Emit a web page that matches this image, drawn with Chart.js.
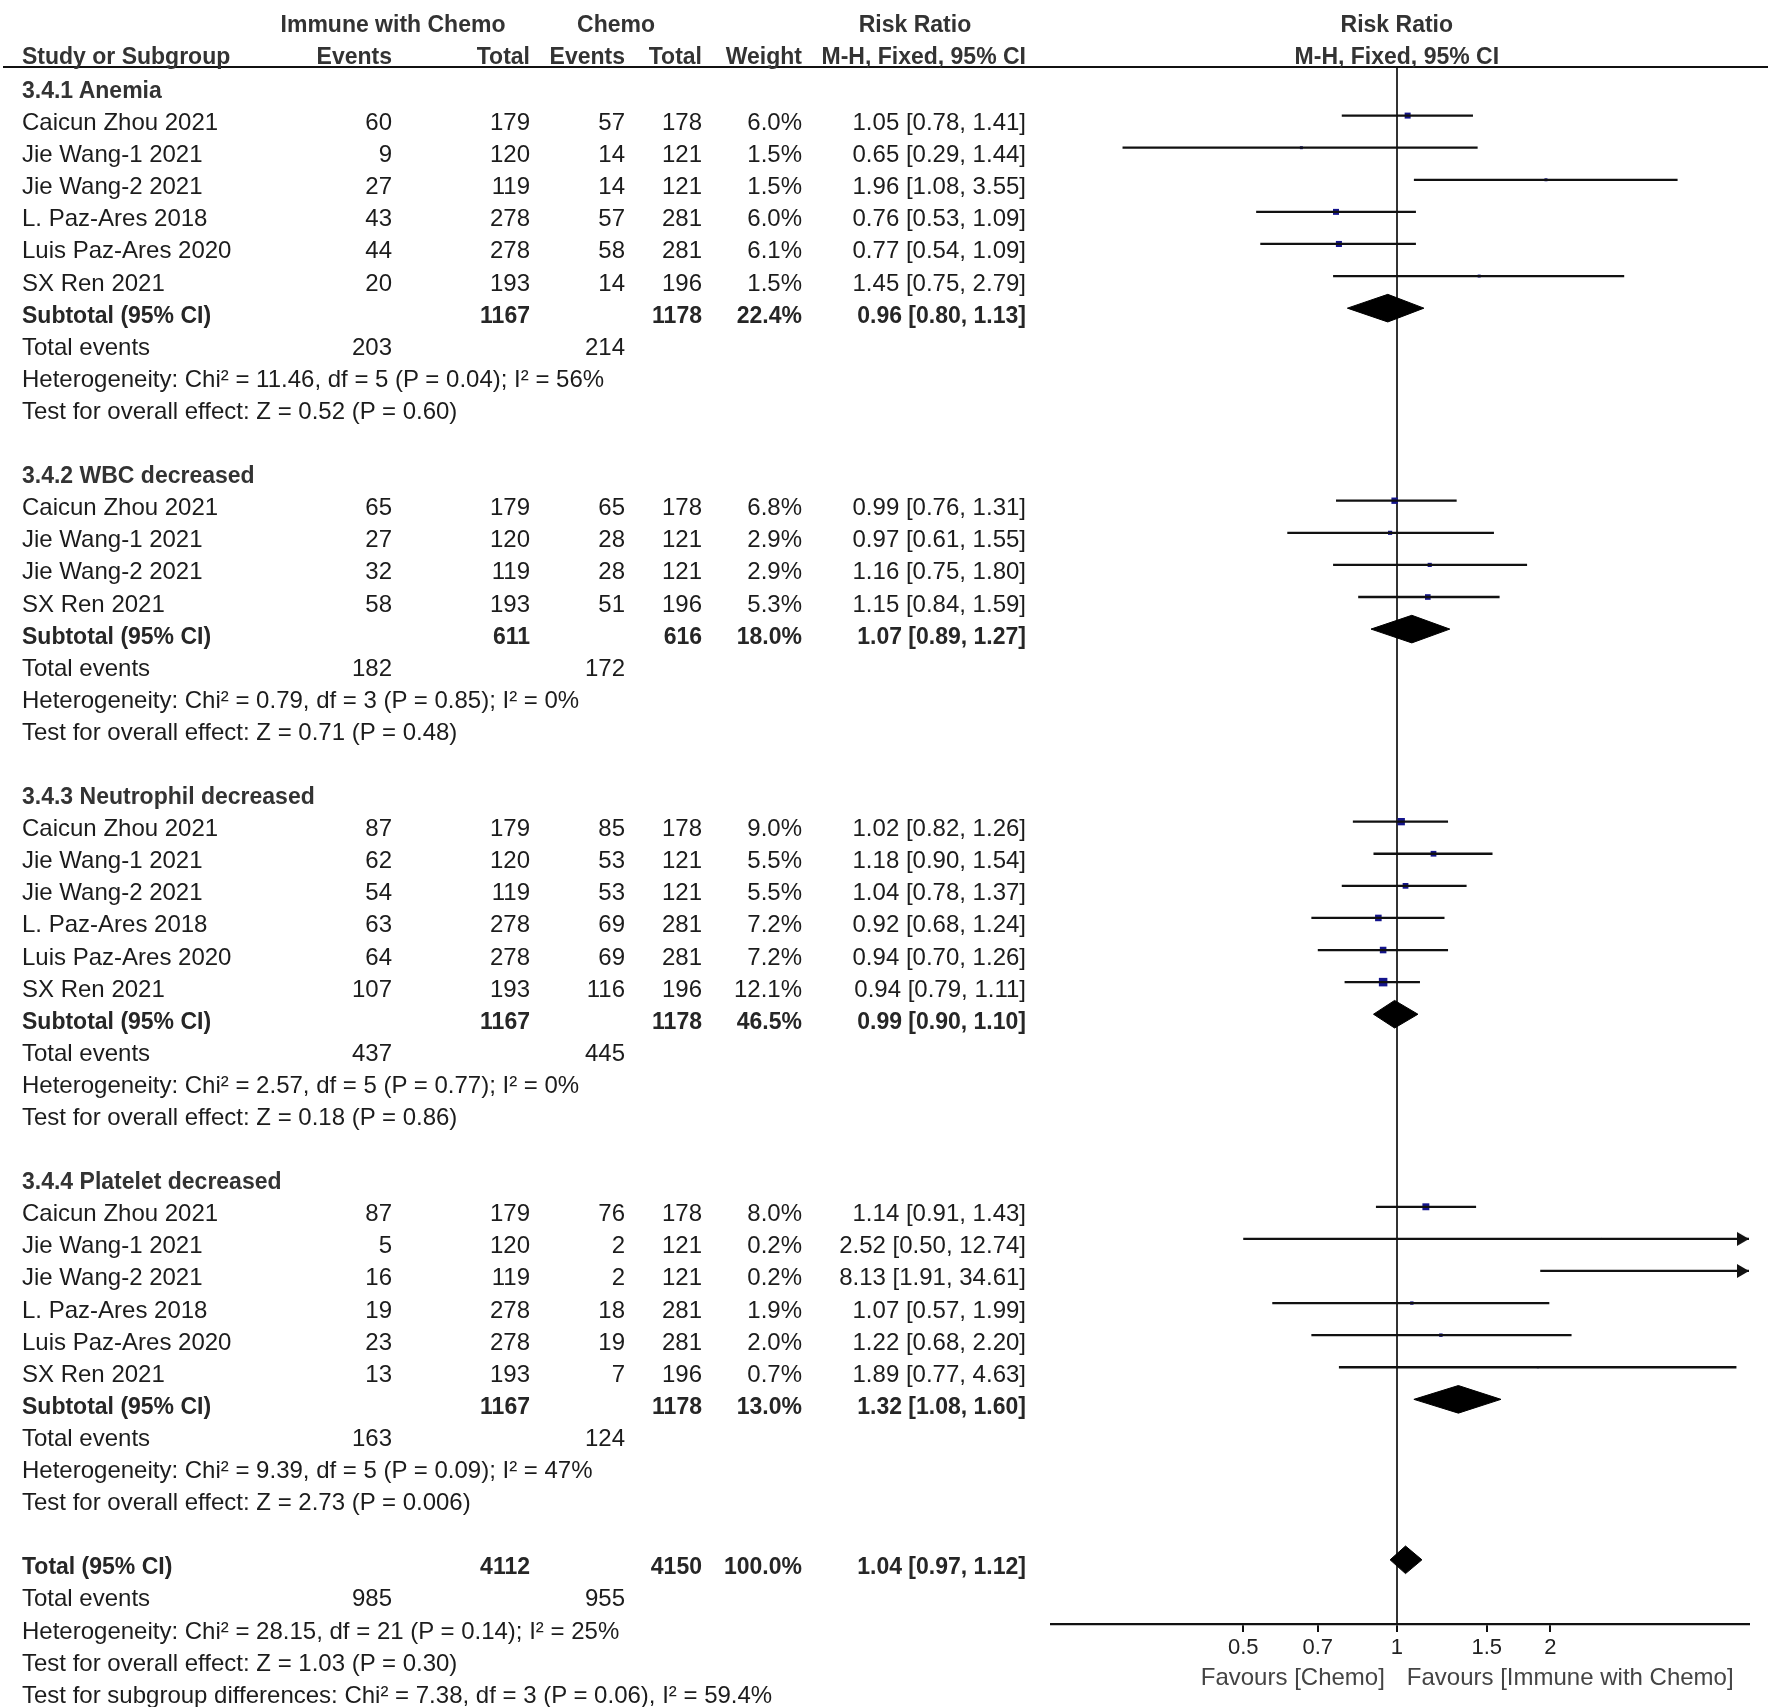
<!DOCTYPE html>
<html>
<head>
<meta charset="utf-8">
<script src="https://cdn.jsdelivr.net/npm/chart.js@4.4.1/dist/chart.umd.min.js"></script>
<style>
  html, body { margin: 0; padding: 0; background: #fff; }
  #wrap { position: relative; width: 1772px; height: 1707px; overflow: hidden;
          font-family: "Liberation Sans", Arial, sans-serif; color: #1c1c1c; }
  #wrap canvas { position: absolute; left: 0; top: 0; }
  .t { position: absolute; font-size: 24px; line-height: 32px; height: 32px; white-space: nowrap; }
  .b { font-weight: bold; font-size: 23px; color: #262626; }
  .h { font-weight: bold; font-size: 23px; color: #333; }
  .g { color: #444; }
  #rule { position: absolute; left: 3px; top: 66px; width: 1765px; height: 2px; background: #111; }
</style>
</head>
<body>
<div id="wrap"><canvas id="plot"></canvas><div id="rule"></div></div>
<script>
// ---- data ----
const groups = ["3.4.1 Anemia", "3.4.2 WBC decreased", "3.4.3 Neutrophil decreased", "3.4.4 Platelet decreased"];

const studyGroup = [0, 0, 0, 0, 0, 0, 1, 1, 1, 1, 2, 2, 2, 2, 2, 2, 3, 3, 3, 3, 3, 3];
const studyNames = [
  "Caicun Zhou 2021", "Jie Wang-1 2021", "Jie Wang-2 2021", "L. Paz-Ares 2018", "Luis Paz-Ares 2020", "SX Ren 2021",
  "Caicun Zhou 2021", "Jie Wang-1 2021", "Jie Wang-2 2021", "SX Ren 2021",
  "Caicun Zhou 2021", "Jie Wang-1 2021", "Jie Wang-2 2021", "L. Paz-Ares 2018", "Luis Paz-Ares 2020", "SX Ren 2021",
  "Caicun Zhou 2021", "Jie Wang-1 2021", "Jie Wang-2 2021", "L. Paz-Ares 2018", "Luis Paz-Ares 2020", "SX Ren 2021"
];
const immuneEvents = [60, 9, 27, 43, 44, 20, 65, 27, 32, 58, 87, 62, 54, 63, 64, 107, 87, 5, 16, 19, 23, 13];
const immuneTotal = [179, 120, 119, 278, 278, 193, 179, 120, 119, 193, 179, 120, 119, 278, 278, 193, 179, 120, 119, 278, 278, 193];
const chemoEvents = [57, 14, 14, 57, 58, 14, 65, 28, 28, 51, 85, 53, 53, 69, 69, 116, 76, 2, 2, 18, 19, 7];
const chemoTotal = [178, 121, 121, 281, 281, 196, 178, 121, 121, 196, 178, 121, 121, 281, 281, 196, 178, 121, 121, 281, 281, 196];
const weights = [6.0, 1.5, 1.5, 6.0, 6.1, 1.5, 6.8, 2.9, 2.9, 5.3, 9.0, 5.5, 5.5, 7.2, 7.2, 12.1, 8.0, 0.2, 0.2, 1.9, 2.0, 0.7];
const riskRatio = [1.05, 0.65, 1.96, 0.76, 0.77, 1.45, 0.99, 0.97, 1.16, 1.15, 1.02, 1.18, 1.04, 0.92, 0.94, 0.94, 1.14, 2.52, 8.13, 1.07, 1.22, 1.89];
const ciLow = [0.78, 0.29, 1.08, 0.53, 0.54, 0.75, 0.76, 0.61, 0.75, 0.84, 0.82, 0.90, 0.78, 0.68, 0.70, 0.79, 0.91, 0.50, 1.91, 0.57, 0.68, 0.77];
const ciHigh = [1.41, 1.44, 3.55, 1.09, 1.09, 2.79, 1.31, 1.55, 1.80, 1.59, 1.26, 1.54, 1.37, 1.24, 1.26, 1.11, 1.43, 12.74, 34.61, 1.99, 2.20, 4.63];

const subImmuneTotal = [1167, 611, 1167, 1167];
const subChemoTotal = [1178, 616, 1178, 1178];
const subWeight = [22.4, 18.0, 46.5, 13.0];
const subRR = [0.96, 1.07, 0.99, 1.32];
const subLow = [0.80, 0.89, 0.90, 1.08];
const subHigh = [1.13, 1.27, 1.10, 1.60];
const subImmuneEvents = [203, 182, 437, 163];
const subChemoEvents = [214, 172, 445, 124];
const subHeterogeneity = [
  "Heterogeneity: Chi² = 11.46, df = 5 (P = 0.04); I² = 56%",
  "Heterogeneity: Chi² = 0.79, df = 3 (P = 0.85); I² = 0%",
  "Heterogeneity: Chi² = 2.57, df = 5 (P = 0.77); I² = 0%",
  "Heterogeneity: Chi² = 9.39, df = 5 (P = 0.09); I² = 47%"
];
const subEffect = [
  "Test for overall effect: Z = 0.52 (P = 0.60)",
  "Test for overall effect: Z = 0.71 (P = 0.48)",
  "Test for overall effect: Z = 0.18 (P = 0.86)",
  "Test for overall effect: Z = 2.73 (P = 0.006)"
];

const totalImmune = 4112, totalChemo = 4150, totalWeight = 100.0;
const totalRR = 1.04, totalLow = 0.97, totalHigh = 1.12;
const totalImmuneEvents = 985, totalChemoEvents = 955;
const totalNotes = [
  "Heterogeneity: Chi² = 28.15, df = 21 (P = 0.14); I² = 25%",
  "Test for overall effect: Z = 1.03 (P = 0.30)",
  "Test for subgroup differences: Chi² = 7.38, df = 3 (P = 0.06), I² = 59.4%"
];

const xMin = 0.21, xMax = 4.9;
const xTicks = [0.5, 0.7, 1, 1.5, 2];

// ---- row layout ----
const rows = [];
const studyRow = [], subRow = [];
let r = 0;
groups.forEach((g, gi) => {
  rows.push({ row: r++, kind: "group", gi });
  studyNames.forEach((n, i) => {
    if (studyGroup[i] !== gi) return;
    studyRow[i] = r;
    rows.push({ row: r++, kind: "study", i });
  });
  subRow[gi] = r;
  rows.push({ row: r++, kind: "sub", gi });
  rows.push({ row: r++, kind: "events", gi });
  rows.push({ row: r++, kind: "note", text: subHeterogeneity[gi] });
  rows.push({ row: r++, kind: "note", text: subEffect[gi] });
  r++;
});
const totalRow = r;
rows.push({ row: r++, kind: "total" });
rows.push({ row: r++, kind: "totalEvents" });
totalNotes.forEach((t) => rows.push({ row: r++, kind: "note", text: t }));

// ---- marks ----
const DIAMOND_H = 0.43;
const ink = "#111";

function arrowHead() {
  const c = document.createElement("canvas");
  c.width = 26; c.height = 16;
  const g = c.getContext("2d");
  g.fillStyle = ink;
  g.beginPath();
  g.moveTo(13, 8); g.lineTo(1, 1); g.lineTo(1, 15); g.closePath();
  g.fill();
  return c;
}

const datasets = [];
studyNames.forEach((n, i) => {
  datasets.push({
    type: "line",
    data: [{ x: ciLow[i], y: studyRow[i] }, { x: ciHigh[i], y: studyRow[i] }],
    borderColor: ink, borderWidth: 2.3, pointRadius: 0, fill: false
  });
});
datasets.push({
  type: "scatter",
  data: studyNames.map((n, i) => ({ x: riskRatio[i], y: studyRow[i] })),
  pointStyle: "rect",
  pointRadius: weights.map((w) => Math.max(1.3, 1.73 * Math.sqrt(w))),
  backgroundColor: "#14148c", borderWidth: 0
});
const arrowIdx = studyNames.map((n, i) => i).filter((i) => ciHigh[i] > xMax);
datasets.push({
  type: "scatter",
  data: arrowIdx.map((i) => ({ x: xMax, y: studyRow[i] })),
  pointStyle: arrowHead(), pointRadius: 8, clip: false
});
function diamond(est, lo, hi, row) {
  return {
    type: "line",
    data: [
      { x: lo, y: row }, { x: est, y: row - DIAMOND_H }, { x: hi, y: row },
      { x: est, y: row + DIAMOND_H }, { x: lo, y: row }
    ],
    borderColor: "#000", backgroundColor: "#000", borderWidth: 1,
    pointRadius: 0, fill: "shape", tension: 0
  };
}
groups.forEach((g, gi) => datasets.push(diamond(subRR[gi], subLow[gi], subHigh[gi], subRow[gi])));
datasets.push(diamond(totalRR, totalLow, totalHigh, totalRow));

const chart = new Chart(document.getElementById("plot").getContext("2d"), {
  type: "line",
  data: { datasets },
  options: {
    responsive: true,
    maintainAspectRatio: false,
    animation: false,
    events: [],
    layout: { padding: { left: 1051, right: 23, top: 68, bottom: 0 } },
    plugins: { legend: { display: false }, tooltip: { enabled: false } },
    scales: {
      x: {
        type: "logarithmic",
        min: xMin,
        max: xMax,
        afterBuildTicks: (s) => { s.ticks = xTicks.map((v) => ({ value: v })); },
        afterFit: (s) => { s.height = 83; },
        grid: {
          drawOnChartArea: true,
          color: (c) => (c.tick && c.tick.value === 1 ? "#333" : "rgba(0,0,0,0)"),
          tickColor: ink,
          lineWidth: 2,
          tickLength: 8
        },
        border: { display: true, color: ink, width: 2.3 },
        ticks: {
          color: "#222",
          font: { family: "Liberation Sans", size: 22 },
          padding: 3,
          autoSkip: false,
          maxRotation: 0,
          callback: (v) => String(v)
        }
      },
      y: { type: "linear", reverse: true, min: -0.483, max: 48.0, display: false }
    }
  }
});

// ---- table text ----
const wrap = document.getElementById("wrap");
const W = 1772;
function text(str, x, y, align, cls) {
  const d = document.createElement("div");
  d.className = "t " + (cls || "");
  d.textContent = str;
  d.style.top = (y - 16) + "px";
  if (align === "left") d.style.left = x + "px";
  else if (align === "right") d.style.right = (W - x) + "px";
  else { d.style.left = (x - 300) + "px"; d.style.width = "600px"; d.style.textAlign = "center"; }
  wrap.appendChild(d);
}
const fmt = (v) => v.toFixed(2);
const ci = (e, l, h) => `${fmt(e)} [${fmt(l)}, ${fmt(h)}]`;

const col = { name: 22, ev1: 392, tot1: 530, ev2: 625, tot2: 702, wt: 802, rr: 1026 };
const ys = chart.scales.y, xs = chart.scales.x;
const ty = (row) => ys.getPixelForValue(row) + 6.5;
const one = xs.getPixelForValue(1);

text("Immune with Chemo", 393, 24, "center", "h");
text("Chemo", 616, 24, "center", "h");
text("Risk Ratio", 915, 24, "center", "h");
text("Risk Ratio", one, 24, "center", "h");
text("Study or Subgroup", col.name, 56, "left", "h");
text("Events", col.ev1, 56, "right", "h");
text("Total", col.tot1, 56, "right", "h");
text("Events", col.ev2, 56, "right", "h");
text("Total", col.tot2, 56, "right", "h");
text("Weight", col.wt, 56, "right", "h");
text("M-H, Fixed, 95% CI", col.rr, 56, "right", "h");
text("M-H, Fixed, 95% CI", one, 56, "center", "h");

rows.forEach((o) => {
  const y = ty(o.row);
  if (o.kind === "group") {
    text(groups[o.gi], col.name, y, "left", "h");
  } else if (o.kind === "study") {
    const i = o.i;
    text(studyNames[i], col.name, y, "left");
    text(String(immuneEvents[i]), col.ev1, y, "right");
    text(String(immuneTotal[i]), col.tot1, y, "right");
    text(String(chemoEvents[i]), col.ev2, y, "right");
    text(String(chemoTotal[i]), col.tot2, y, "right");
    text(weights[i].toFixed(1) + "%", col.wt, y, "right");
    text(ci(riskRatio[i], ciLow[i], ciHigh[i]), col.rr, y, "right");
  } else if (o.kind === "sub") {
    const g = o.gi;
    text("Subtotal (95% CI)", col.name, y, "left", "b");
    text(String(subImmuneTotal[g]), col.tot1, y, "right", "b");
    text(String(subChemoTotal[g]), col.tot2, y, "right", "b");
    text(subWeight[g].toFixed(1) + "%", col.wt, y, "right", "b");
    text(ci(subRR[g], subLow[g], subHigh[g]), col.rr, y, "right", "b");
  } else if (o.kind === "events") {
    text("Total events", col.name, y, "left");
    text(String(subImmuneEvents[o.gi]), col.ev1, y, "right");
    text(String(subChemoEvents[o.gi]), col.ev2, y, "right");
  } else if (o.kind === "total") {
    text("Total (95% CI)", col.name, y, "left", "b");
    text(String(totalImmune), col.tot1, y, "right", "b");
    text(String(totalChemo), col.tot2, y, "right", "b");
    text(totalWeight.toFixed(1) + "%", col.wt, y, "right", "b");
    text(ci(totalRR, totalLow, totalHigh), col.rr, y, "right", "b");
  } else if (o.kind === "totalEvents") {
    text("Total events", col.name, y, "left");
    text(String(totalImmuneEvents), col.ev1, y, "right");
    text(String(totalChemoEvents), col.ev2, y, "right");
  } else {
    text(o.text, col.name, y, "left");
  }
});

const below = chart.chartArea.bottom + 53;
text("Favours [Chemo]", one - 12, below, "right", "g");
text("Favours [Immune with Chemo]", one + 10, below, "left", "g");
</script>
</body>
</html>
